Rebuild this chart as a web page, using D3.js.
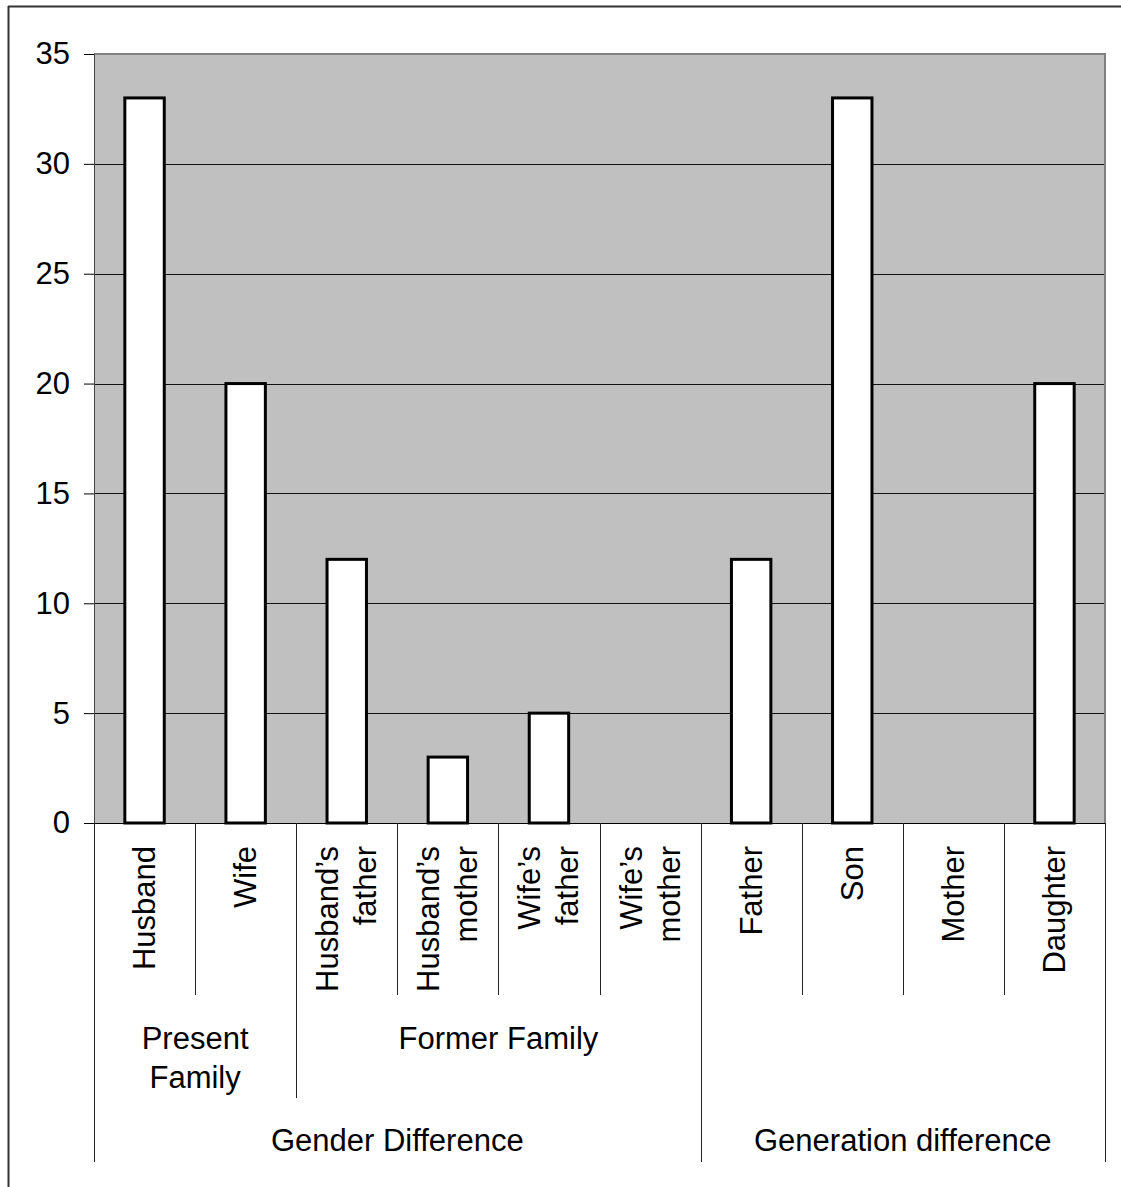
<!DOCTYPE html>
<html>
<head>
<meta charset="utf-8">
<script src="https://cdn.jsdelivr.net/npm/d3@7"></script>
<style>
  html, body { margin: 0; padding: 0; background: #fff; }
  svg { display: block; }
  text { font-family: "Liberation Sans", Arial, sans-serif; fill: #000; }
</style>
</head>
<body>
<script>
// Respondents per family member (count)
const categories = [
  "Husband", "Wife", "Husband’s father", "Husband’s mother",
  "Wife’s father", "Wife’s mother", "Father", "Son", "Mother", "Daughter"
];
const values = [33, 20, 12, 3, 5, 0, 12, 33, 0, 20];

// Second level of the category axis (spans given as [first, last] category index)
const subGroups = [
  { label: ["Present", "Family"], from: 0, to: 1 },
  { label: ["Former Family"], from: 2, to: 5 },
  { label: [], from: 6, to: 9 }
];
// Third level of the category axis
const topGroups = [
  { label: "Gender Difference", from: 0, to: 5 },
  { label: "Generation difference", from: 6, to: 9 }
];
const yTicks = [0, 5, 10, 15, 20, 25, 30, 35];

const W = 1121, H = 1187;
const plot = { left: 94, right: 1105, top: 54, bottom: 823 };
const FONT = 31;

const svg = d3.select("body").append("svg")
  .attr("width", W).attr("height", H);

// outer frame (top and left edges)
svg.append("line").attr("x1", 8).attr("x2", W).attr("y1", 6.5).attr("y2", 6.5)
  .attr("stroke", "#333").attr("stroke-width", 2);
svg.append("line").attr("x1", 8.5).attr("x2", 8.5).attr("y1", 6).attr("y2", H)
  .attr("stroke", "#333").attr("stroke-width", 2);

const y = d3.scaleLinear().domain([0, 35]).range([plot.bottom, plot.top]);
const xCell = d3.scaleBand().domain(d3.range(categories.length))
  .range([plot.left, plot.right]).padding(0);
const xBar = d3.scaleBand().domain(d3.range(categories.length))
  .range([plot.left, plot.right]).paddingInner(0.61).paddingOuter(0.305);

// plot background
svg.append("rect")
  .attr("x", plot.left).attr("y", plot.top)
  .attr("width", plot.right - plot.left).attr("height", plot.bottom - plot.top)
  .attr("fill", "#c0c0c0");

// horizontal gridlines
svg.append("g").selectAll("line")
  .data(yTicks.filter(t => t > 0 && t < 35))
  .join("line")
  .attr("x1", plot.left).attr("x2", plot.right)
  .attr("y1", d => Math.round(y(d)) + 0.5).attr("y2", d => Math.round(y(d)) + 0.5)
  .attr("stroke", "#111").attr("stroke-width", 1);

// plot border top / right
svg.append("path")
  .attr("d", `M${plot.left},${plot.top} H${plot.right} V${plot.bottom}`)
  .attr("fill", "none").attr("stroke", "#808080").attr("stroke-width", 2);

// y axis
const yAxis = d3.axisLeft(y).tickValues(yTicks).tickSize(10).tickPadding(14);
const gy = svg.append("g").attr("transform", `translate(${plot.left},0)`).call(yAxis);
gy.select(".domain").attr("stroke", "#444").attr("stroke-width", 1);
gy.selectAll(".tick line").attr("stroke", "#000");
gy.selectAll(".tick text").attr("font-size", FONT)
  .attr("font-family", "Liberation Sans, Arial, sans-serif").attr("fill", "#000");

// bars
svg.append("g").selectAll("rect")
  .data(values)
  .join("rect")
  .attr("x", (d, i) => xBar(i))
  .attr("y", d => y(d))
  .attr("width", xBar.bandwidth())
  .attr("height", d => y(0) - y(d))
  .attr("fill", "#fff")
  .attr("stroke", "#000")
  .attr("stroke-width", 3)
  .attr("display", d => d > 0 ? null : "none");

// category axis baseline
svg.append("line")
  .attr("x1", plot.left - 10).attr("x2", plot.right)
  .attr("y1", plot.bottom + 0.5).attr("y2", plot.bottom + 0.5)
  .attr("stroke", "#000").attr("stroke-width", 1);

// separators of the three category levels
const level1Bottom = 995, level2Bottom = 1098, level3Bottom = 1162;
const boundaries = d3.range(categories.length + 1);
const topEdges = new Set(topGroups.flatMap(g => [g.from, g.to + 1]));
const subEdges = new Set(subGroups.filter(g => g.label.length).flatMap(g => [g.from, g.to + 1]));
svg.append("g").selectAll("line")
  .data(boundaries)
  .join("line")
  .attr("x1", i => Math.round(i < categories.length ? xCell(i) : plot.right) + 0.5)
  .attr("x2", i => Math.round(i < categories.length ? xCell(i) : plot.right) + 0.5)
  .attr("y1", plot.bottom)
  .attr("y2", i => topEdges.has(i) ? level3Bottom : subEdges.has(i) ? level2Bottom : level1Bottom)
  .attr("stroke", "#222").attr("stroke-width", 1);

// category labels, rotated, one or two lines
const lineGap = 38;
const catG = svg.append("g");
categories.forEach((c, i) => {
  const lines = c.includes(" ") ? c.split(" ") : [c];
  const cx = xCell(i) + xCell.bandwidth() / 2;
  lines.forEach((ln, k) => {
    const off = (k - (lines.length - 1) / 2) * lineGap + 10.5;
    catG.append("text")
      .attr("transform", `translate(${cx + off},846) rotate(-90)`)
      .attr("text-anchor", "end")
      .attr("font-size", FONT)
      .text(ln);
  });
});

// second-level labels
subGroups.forEach(g => {
  const cx = (xCell(g.from) + xCell(g.to) + xCell.bandwidth()) / 2;
  g.label.forEach((ln, k) => {
    svg.append("text")
      .attr("x", cx).attr("y", 1049 + k * 39)
      .attr("text-anchor", "middle")
      .attr("font-size", FONT)
      .text(ln);
  });
});

// third-level labels
topGroups.forEach(g => {
  const cx = (xCell(g.from) + xCell(g.to) + xCell.bandwidth()) / 2;
  svg.append("text")
    .attr("x", cx).attr("y", 1151)
    .attr("text-anchor", "middle")
    .attr("font-size", FONT)
    .text(g.label);
});
</script>
</body>
</html>
